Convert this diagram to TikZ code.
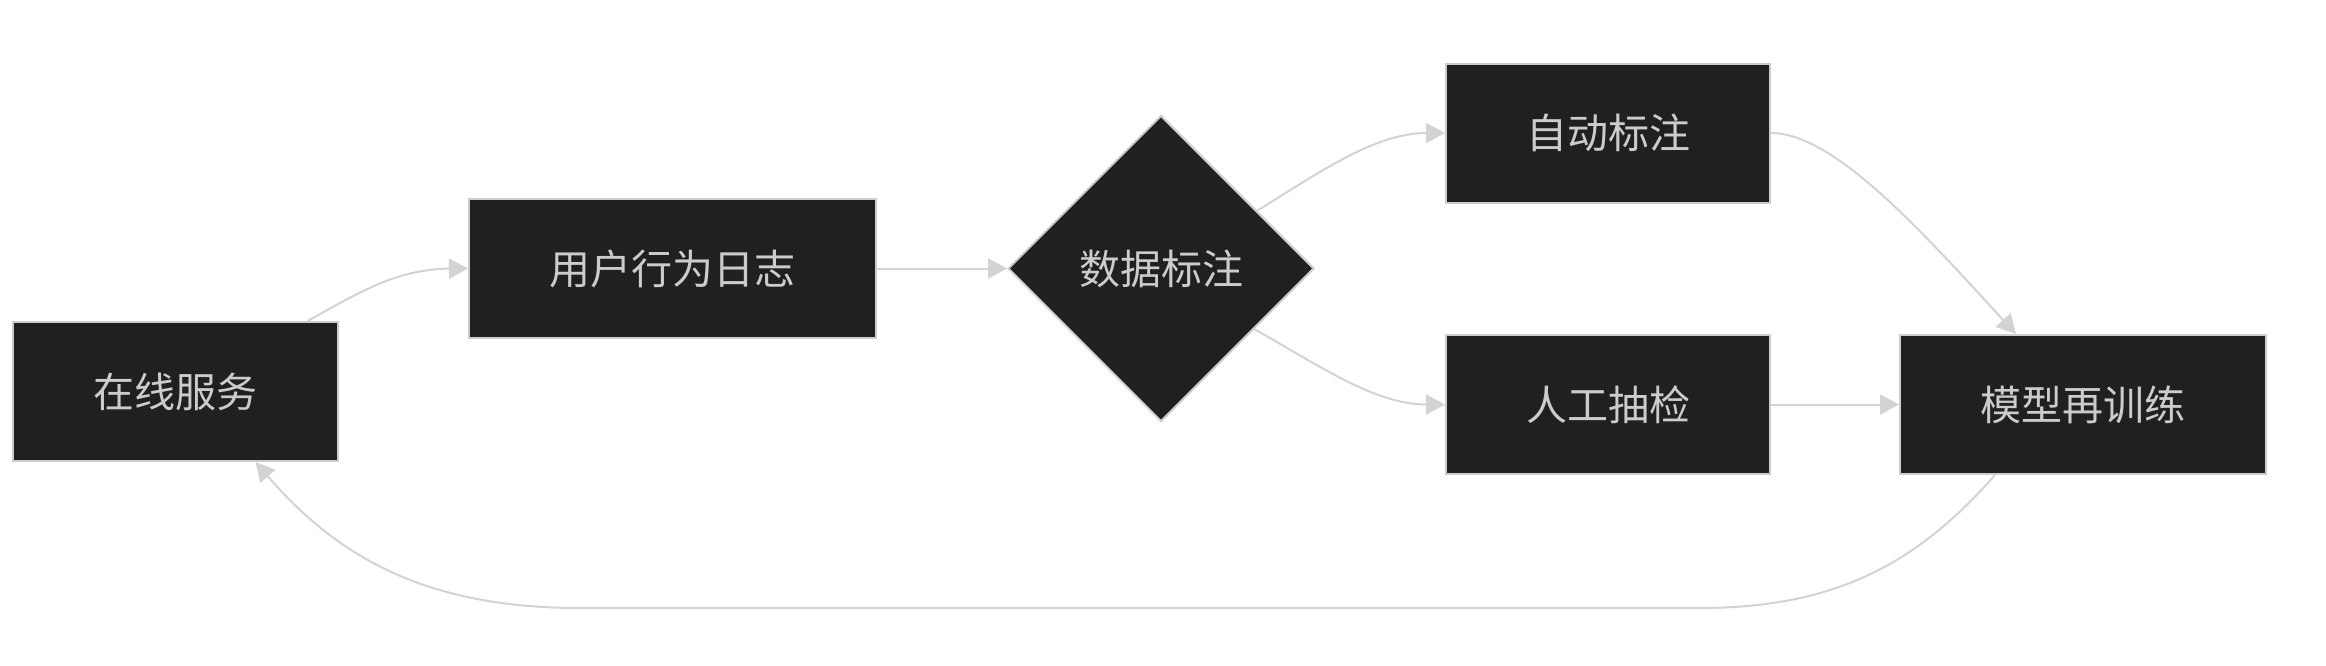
\documentclass[tikz,border=0pt]{standalone}
\usepackage{fontspec}
\setmainfont{Noto Sans CJK SC}
\usetikzlibrary{shapes.geometric}
\usetikzlibrary{arrows.meta}
\definecolor{nodefill}{HTML}{1F2020}
\definecolor{nodeline}{HTML}{CCCCCC}
\definecolor{nodetext}{HTML}{CCCCCC}
\definecolor{edgeline}{HTML}{D3D3D3}

\begin{document}
\begin{tikzpicture}[x=1pt,y=-1pt,
    box/.style={draw=nodeline,fill=nodefill,text=nodetext,line width=2pt,minimum height=139pt,inner sep=0pt,font=\fontsize{41}{49}\selectfont},
    decision/.style={box,diamond,minimum width=306pt,minimum height=306pt},
    flow/.style={draw=edgeline,line width=2pt,-{Triangle[length=19pt,width=20pt]}}]
    \useasboundingbox (0,0) rectangle (2326,665);
    \node[box,minimum width=325pt] (online) at (175.5,391.5) {在线服务};
    \node[box,minimum width=407pt] (log) at (672.5,268.5) {用户行为日志};
    \node[decision] (label) at (1161,268.5) {数据标注};
    \node[box,minimum width=324pt] (auto) at (1608,133) {自动标注};
    \node[box,minimum width=324pt] (check) at (1608,404.5) {人工抽检};
    \node[box,minimum width=366pt] (retrain) at (2083,404.5) {模型再训练};
    \draw[flow] ([xshift=132pt]online.north) .. controls (355,295) and (395,269) .. (log.west);
    \draw[flow] (log.east) -- (label.west);
    \draw[flow] (label.31) .. controls (1320,172) and (1375,133) .. (auto.west);
    \draw[flow] (label.-33) .. controls (1320,366) and (1375,404.5) .. (check.west);
    \draw[flow] (auto.east) .. controls (1835,133) and (1925,235) .. ([xshift=-67pt]retrain.north);
    \draw[flow] (check.east) -- (retrain.west);
    \draw[flow] ([xshift=-88pt]retrain.south) .. controls (1920,560) and (1840,608) .. (1700,608)
        -- (580,608) .. controls (430,608) and (340,560) .. ([xshift=80pt]online.south);
\end{tikzpicture}
\end{document}
